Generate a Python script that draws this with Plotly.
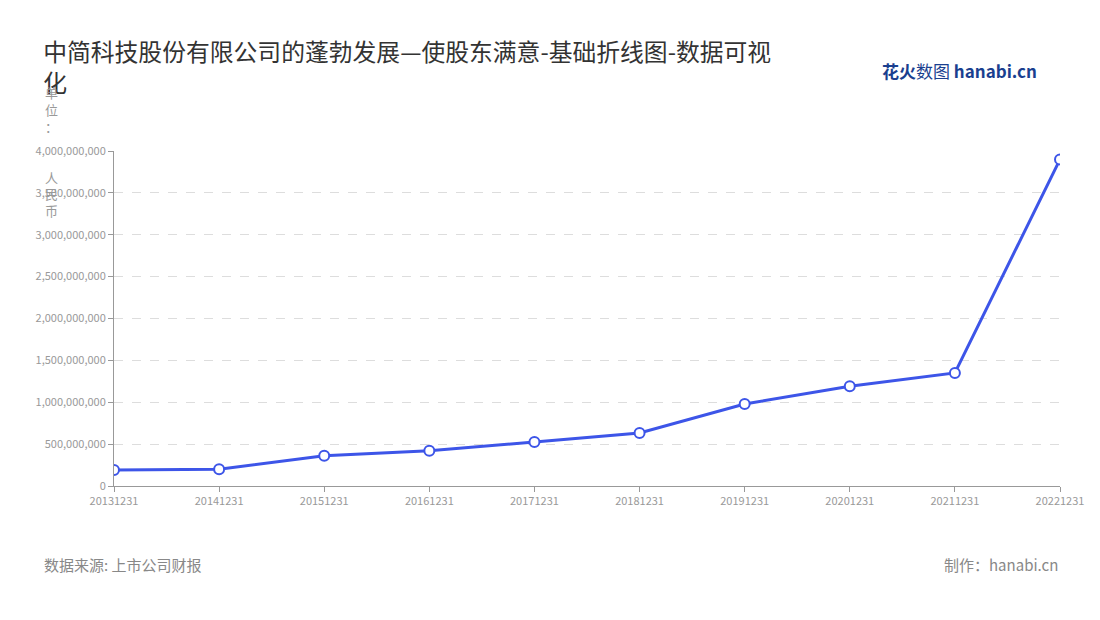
import plotly.graph_objects as go

years = ["20131231","20141231","20151231","20161231","20171231","20181231","20191231","20201231","20211231","20221231"]
values = [190e6, 200e6, 360e6, 420e6, 525e6, 633e6, 980e6, 1190e6, 1350e6, 3900e6]
tickvals = [0, 500e6, 1000e6, 1500e6, 2000e6, 2500e6, 3000e6, 3500e6, 4000e6]
ticktext = ["0","500,000,000","1,000,000,000","1,500,000,000","2,000,000,000","2,500,000,000","3,000,000,000","3,500,000,000","4,000,000,000"]

font = "Noto Sans CJK SC"
fig = go.Figure(go.Scatter(
    x=years, y=values, mode="lines+markers",
    line=dict(color="#3d55e8", width=3),
    marker=dict(size=10, color="white", line=dict(color="#3d55e8", width=2)),
))
fig.update_layout(
    width=1100, height=620, paper_bgcolor="white", plot_bgcolor="white",
    margin=dict(l=106, r=48, t=143, b=142),
    font=dict(family=font, color="#999", size=11),
    showlegend=False,
    title=dict(text="中简科技股份有限公司的蓬勃发展—使股东满意-基础折线图-数据可视<br>化",
               x=0.032, xanchor="left", y=0.915, yanchor="top",
               font=dict(size=23.8, color="#333", family=font)),
    xaxis=dict(type="category", showgrid=False, showline=True, linecolor="#999",
               ticks="outside", tickcolor="#999", ticklen=5, range=[0, 9],
               tickfont=dict(size=11, color="#999")),
    yaxis=dict(range=[0, 4000e6], tickvals=tickvals, ticktext=ticktext,
               showgrid=True, gridcolor="#ddd", griddash="dash", zeroline=False,
               showline=True, linecolor="#999", ticks="outside", tickcolor="#999", ticklen=5,
               tickfont=dict(size=11, color="#999")),
    annotations=[
        dict(text="单<br>位<br>：<br> <br> <br>人<br>民<br>币", xref="paper", yref="paper",
             x=-0.066, y=1.21, xanchor="center", yanchor="top",
             showarrow=False, font=dict(size=13, color="#999"), align="center"),
        dict(text="数据来源: 上市公司财报", xref="paper", yref="paper", x=-0.076, y=-0.235,
             xanchor="left", yanchor="middle", showarrow=False, font=dict(size=15, color="#888")),
        dict(text="制作：hanabi.cn", xref="paper", yref="paper", x=1.0, y=-0.235,
             xanchor="right", yanchor="middle", showarrow=False, font=dict(size=15, color="#888")),
        dict(text="<b>花火</b>数图 <b>hanabi.cn</b>", xref="paper", yref="paper", x=0.978, y=1.24,
             xanchor="right", yanchor="middle", showarrow=False, font=dict(size=17, color="#1a3f8f")),
    ],
)
fig.write_html("out.html")
